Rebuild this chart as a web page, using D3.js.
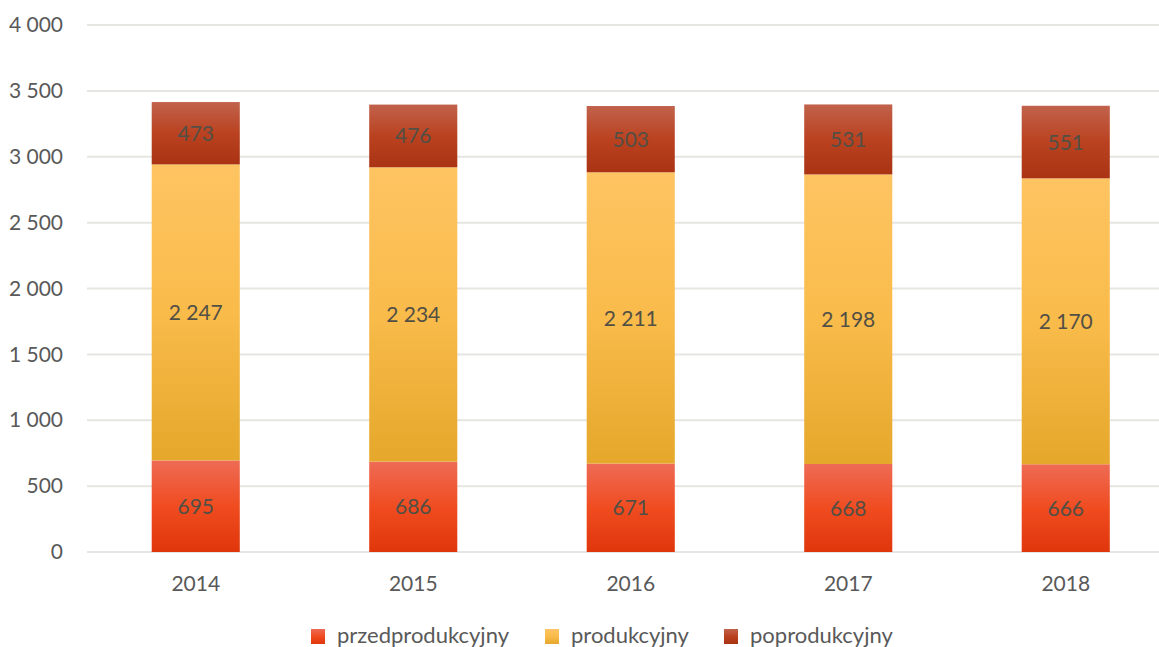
<!DOCTYPE html>
<html>
<head>
<meta charset="utf-8">
<script src="https://cdn.jsdelivr.net/npm/d3@7"></script>
<style>
  body { margin: 0; background: #fff; }
  svg { display: block; font-family: Lato, "Open Sans", sans-serif; }
</style>
</head>
<body>
<div id="chart"></div>
<script>
const years = ['2014', '2015', '2016', '2017', '2018'];
const seriesNames = ['przedprodukcyjny', 'produkcyjny', 'poprodukcyjny'];
const przed = [695, 686, 671, 668, 666];
const prod = [2247, 2234, 2211, 2198, 2170];
const popr = [473, 476, 503, 531, 551];
const yTicks = [0, 500, 1000, 1500, 2000, 2500, 3000, 3500, 4000];

const w = 1159;
const h = 647;
const plotLeft = 87;
const plotTop = 25;
const plotBottom = 552;

const svg = d3.select('#chart').append('svg')
  .attr('width', w)
  .attr('height', h);

// gradients like the office fills
const grads = [
  { id: 'g0', top: '#ee6b55', mid: '#f04c20', bot: '#e0360c' },
  { id: 'g1', top: '#fec462', mid: '#f9bb4a', bot: '#e5a82b' },
  { id: 'g2', top: '#c1624c', mid: '#ba4220', bot: '#a93313' }
];
const defs = svg.append('defs');
grads.forEach(g => {
  const lg = defs.append('linearGradient')
    .attr('id', g.id)
    .attr('x1', 0).attr('y1', 0).attr('x2', 0).attr('y2', 1);
  lg.append('stop').attr('offset', '0%').attr('stop-color', g.top);
  lg.append('stop').attr('offset', '50%').attr('stop-color', g.mid);
  lg.append('stop').attr('offset', '100%').attr('stop-color', g.bot);
});

const data = years.map((y, i) => ({ year: y, przed: przed[i], prod: prod[i], popr: popr[i] }));
const stack = d3.stack().keys(['przed', 'prod', 'popr']);
const layers = stack(data);

const x = d3.scaleBand()
  .domain(years)
  .range([plotLeft, plotLeft + 5 * 217.5])
  .paddingInner(0.595)
  .paddingOuter(0.2975);

const y = d3.scaleLinear()
  .domain([0, 4000])
  .range([plotBottom, plotTop]);

// gridlines
svg.append('g')
  .selectAll('line')
  .data(yTicks)
  .enter()
  .append('line')
  .attr('x1', plotLeft)
  .attr('x2', w)
  .attr('y1', d => y(d))
  .attr('y2', d => y(d))
  .style('stroke', '#e6e5e1')
  .style('stroke-width', 2);

const fmt = d => d3.format(',')(d).replace(/,/g, ' ');

// y axis labels
const yAxis = d3.axisLeft(y).tickValues(yTicks).tickFormat(fmt).tickSize(0).tickPadding(0);
const ya = svg.append('g')
  .attr('transform', 'translate(63,0)')
  .call(yAxis);
ya.select('.domain').remove();
ya.selectAll('text')
  .style('font-family', 'Lato, sans-serif')
  .style('font-size', '21px')
  .style('fill', '#595959');

// x axis labels
const xAxis = d3.axisBottom(x).tickSize(0).tickPadding(0);
const xa = svg.append('g')
  .attr('transform', 'translate(0,576)')
  .call(xAxis);
xa.select('.domain').remove();
xa.selectAll('text')
  .style('font-family', 'Lato, sans-serif')
  .style('font-size', '21px')
  .style('fill', '#595959');

// bars
const layerG = svg.selectAll('.layer')
  .data(layers)
  .enter()
  .append('g')
  .attr('class', 'layer')
  .style('fill', (d, i) => 'url(#g' + i + ')');

layerG.selectAll('rect')
  .data(d => d)
  .enter()
  .append('rect')
  .attr('x', d => x(d.data.year))
  .attr('width', x.bandwidth())
  .attr('y', d => y(d[1]))
  .attr('height', d => y(d[0]) - y(d[1]));

layerG.selectAll('text')
  .data(d => d)
  .enter()
  .append('text')
  .attr('x', d => x(d.data.year) + x.bandwidth() / 2)
  .attr('y', d => (y(d[0]) + y(d[1])) / 2)
  .attr('dy', '0.36em')
  .attr('text-anchor', 'middle')
  .style('font-size', '21px')
  .style('fill', '#524f45')
  .text(d => fmt(d[1] - d[0]));

// legend
const legendX = [311, 545, 724];
const legend = svg.append('g').attr('id', 'legend');
seriesNames.forEach((name, i) => {
  legend.append('rect')
    .attr('x', legendX[i])
    .attr('y', 629)
    .attr('width', 14)
    .attr('height', 15)
    .style('fill', 'url(#g' + i + ')');
  legend.append('text')
    .attr('x', legendX[i] + 26)
    .attr('y', 643)
    .style('font-size', '22px')
    .style('fill', '#595959')
    .text(name);
});
</script>
</body>
</html>
